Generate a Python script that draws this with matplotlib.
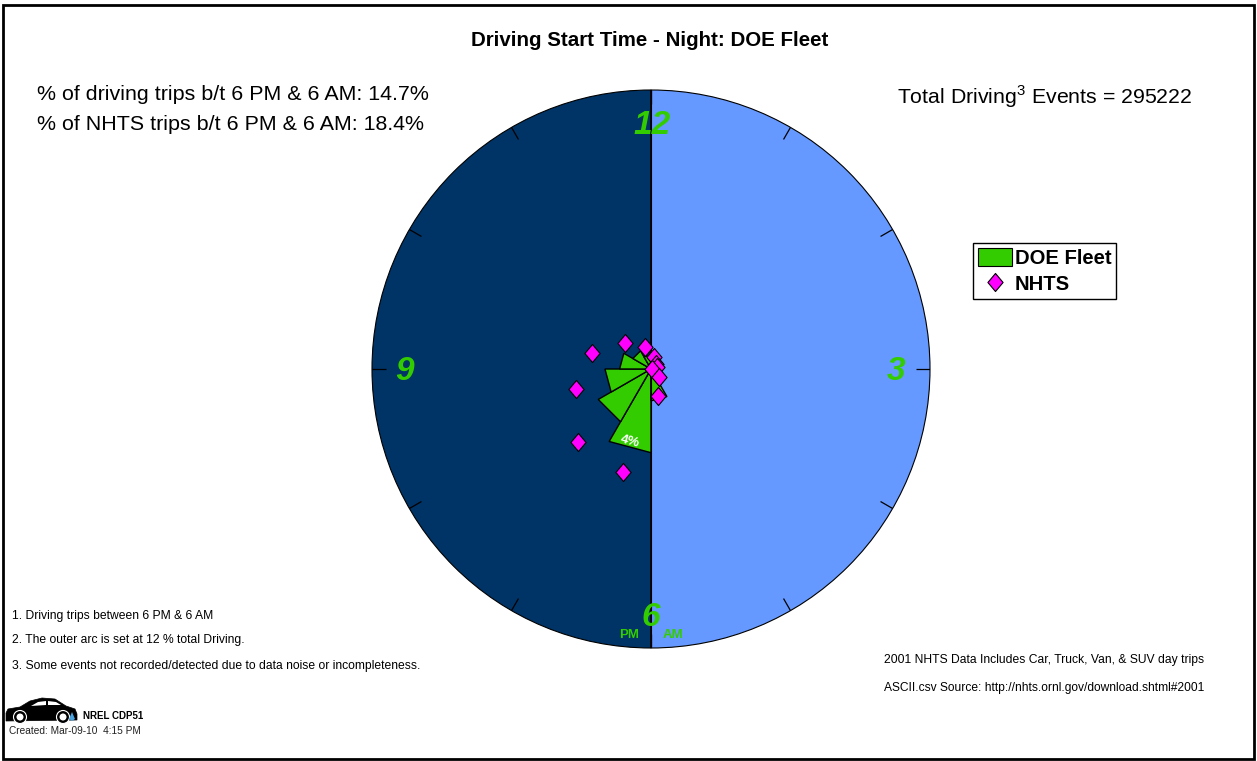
import numpy as np
import matplotlib
matplotlib.use("Agg")
import matplotlib.pyplot as plt
from matplotlib.patches import Rectangle, Polygon, Circle, Patch
from matplotlib.path import Path
from matplotlib.lines import Line2D

plt.rcParams['font.family'] = ['Liberation Sans', 'DejaVu Sans']
plt.rcParams['mathtext.fontset'] = 'custom'
plt.rcParams['mathtext.rm'] = 'Liberation Sans'

# Data: hourly bins clockwise from 6 PM (bottom) through 12 to 6 AM, percent of trips
hours = ['6PM', '7PM', '8PM', '9PM', '10PM', '11PM', '12AM', '1AM', '2AM', '3AM', '4AM', '5AM']
doe_fleet = [3.6, 2.62, 1.98, 1.35, 0.9, 0.6, 0.45, 0.35, 0.3, 0.3, 0.55, 1.37]
nhts = [4.6, 4.43, 3.33, 2.63, 1.57, 0.98, 0.54, 0.28, 0.25, 0.05, 0.46, 1.22]
outer_arc = 12
half_labels = ['PM', 'AM']
clock_labels = ['12', '3', '6', '9']

GREEN = '#33CC00'
MAG = '#FF00FF'
W, H = 1257, 761
fig = plt.figure(figsize=(W / 100, H / 100), dpi=100, facecolor='white')

# polar chart: centre (651,369), radius 279 px
ax = fig.add_axes([372 / W, 1 - 648 / H, 558 / W, 558 / H], projection='polar')
ax.set_theta_zero_location('N')
ax.set_theta_direction(-1)
ax.set_ylim(0, outer_arc)
ax.set_axis_off()

ax.bar([1.5 * np.pi, 0.5 * np.pi], [outer_arc, outer_arc], width=np.pi,
       color=['#003366', '#6699FF'], edgecolor='black', linewidth=0.8, clip_on=False, zorder=1)

step = np.deg2rad(30)
starts = np.pi + step * np.arange(len(hours))
centers = starts + step / 2
# straight-edged wedges, as in the reference
for a, v in zip(starts, doe_fleet):
    ax.fill([a, a, a + step], [0, v, v], facecolor=GREEN, edgecolor='black', linewidth=1.0,
            joinstyle='miter', zorder=2)
ax.plot([0, 0], [0, outer_arc], color='black', lw=0.8, zorder=2.5)
ax.plot([np.pi, np.pi], [0, outer_arc], color='black', lw=0.8, zorder=2.5)

for a in step * np.arange(12):
    ax.plot([a, a], [outer_arc * 0.95, outer_arc], color='black', lw=0.9, zorder=3,
            solid_capstyle='butt')

diamond = Path([(0, 1), (0.84, 0), (0, -1), (-0.84, 0), (0, 1)], closed=True)
ax.plot(centers, nhts, ls='none', marker=diamond, ms=13, mfc=MAG, mec='black', mew=0.8,
        zorder=4, clip_on=False)

# overlay in pixel coordinates for page layout
ov = fig.add_axes([0, 0, 1, 1], facecolor='none')
ov.set_xlim(0, W)
ov.set_ylim(H, 0)
ov.set_axis_off()
ov.add_patch(Rectangle((3, 5), 1251, 754, fill=False, ec='black', lw=2.0))


def t(x, y, s, size, ha='left', va='center', **kw):
    return ov.text(x, y, s, fontsize=size, ha=ha, va=va, **kw)


t(650, 40.5, 'Driving Start Time - Night: DOE Fleet', 14.8, ha='center', fontweight='bold')
t(37, 95, '% of driving trips b/t 6 PM & 6 AM: 14.7%', 15.4)
t(37, 125, '% of NHTS trips b/t 6 PM & 6 AM: 18.4%', 15.4)
t(897, 97, 'Total Driving$^{\\mathrm{3}}$ Events = 295222', 15.3)

for (x, y), s in zip([(652, 125), (896, 372), (651, 618), (405, 371)], clock_labels):
    t(x, y, s, 24, ha='center', color=GREEN, fontweight='bold', fontstyle='italic')
t(629, 635, half_labels[0], 9.5, ha='center', color=GREEN, fontweight='bold')
t(672.5, 635, half_labels[1], 9.5, ha='center', color=GREEN, fontweight='bold')
t(630, 442, '4%', 9.5, ha='center', color='white', fontweight='bold', rotation=-15)

t(12, 616, '1. Driving trips between 6 PM & 6 AM', 8.75)
t(12, 640.5, '2. The outer arc is set at 12 % total Driving.', 8.75)
t(12, 665.5, '3. Some events not recorded/detected due to data noise or incompleteness.', 8.75)
t(884, 659.5, '2001 NHTS Data Includes Car, Truck, Van, & SUV day trips', 8.75)
t(884, 688.5, 'ASCII.csv Source: http://nhts.ornl.gov/download.shtml#2001', 8.65)
t(83, 716, 'NREL CDP51', 7, fontweight='bold')
t(9, 731, 'Created: Mar-09-10  4:15 PM', 7.3, color='#222222')

# car logo
car = [(6, 713), (8, 709), (20, 707), (30, 701), (42, 698), (55, 699), (66, 706), (75, 709), (77, 714),
       (77, 720), (6, 721)]
ov.add_patch(Polygon(car, closed=True, fc='black', ec='black', lw=0.5))
ov.add_patch(Polygon([(31, 706), (38, 702), (46, 701), (46, 705)], closed=True, fc='white', ec='none'))
ov.add_patch(Polygon([(48, 701), (56, 702), (61, 705), (48, 705)], closed=True, fc='white', ec='none'))
for cx in (20, 63):
    ov.add_patch(Circle((cx, 717), 6.5, fc='black', ec='white', lw=0.8))
    ov.add_patch(Circle((cx, 717), 3.5, fc='white', ec='none'))
ov.add_patch(Polygon([(72, 712), (75, 719), (72, 721), (69, 719)], closed=True, fc='#4AA3DF', ec='none'))

# legend
handles = [Patch(fc=GREEN, ec='black', lw=0.8),
           Line2D([], [], ls='none', marker=diamond, ms=13, mfc=MAG, mec='black', mew=0.8)]
leg = fig.legend(handles, ['DOE Fleet', 'NHTS'], loc='upper left',
                 bbox_to_anchor=(973 / W, 1 - 243 / H), borderaxespad=0, fancybox=False,
                 framealpha=1, edgecolor='black', prop={'weight': 'bold', 'size': 14.6},
                 handlelength=1.65, handleheight=1.0, handletextpad=0.15, borderpad=0.25, labelspacing=0.3)
leg.get_frame().set_linewidth(1.0)

fig.savefig('out.png', dpi=100)
